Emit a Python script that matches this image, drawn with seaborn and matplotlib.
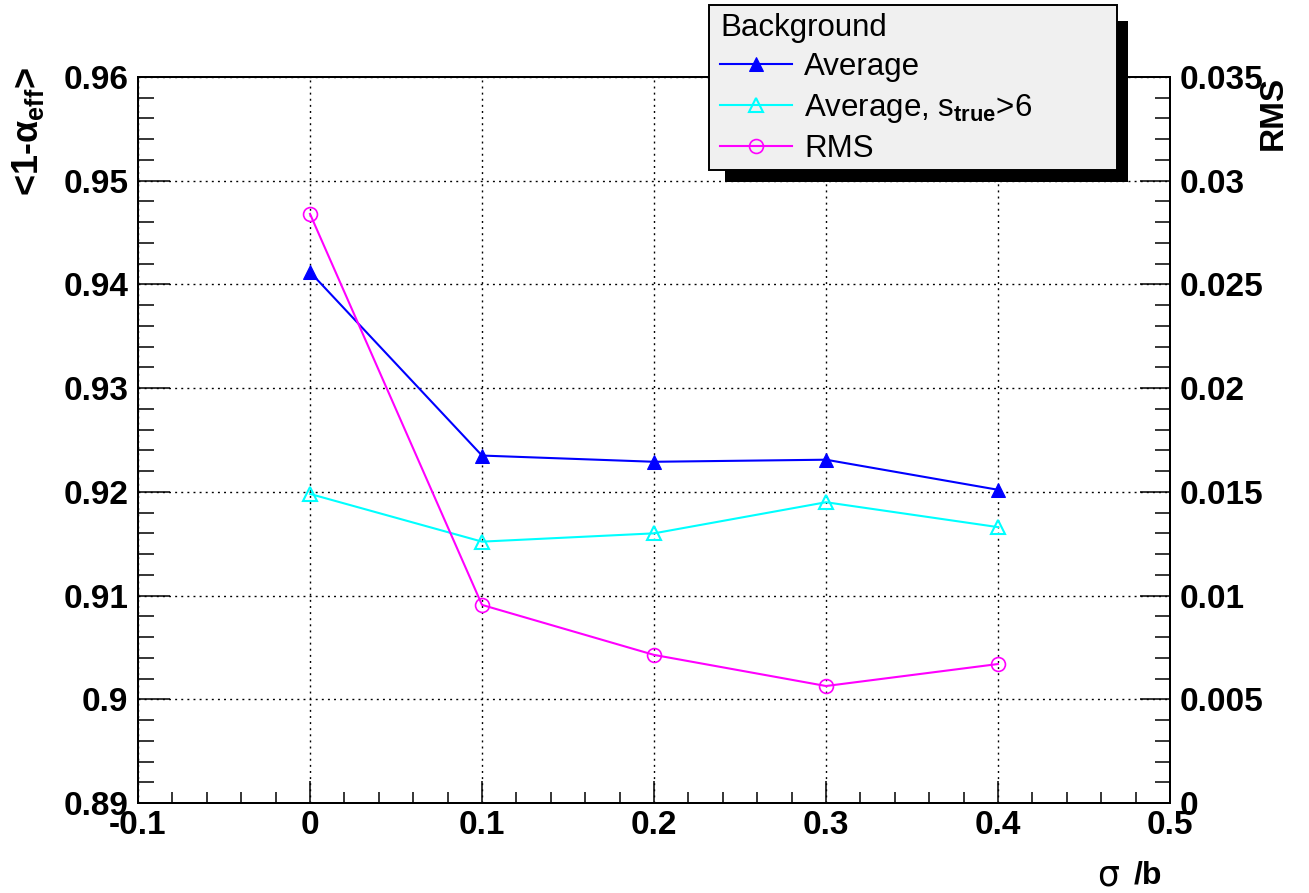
import numpy as np
import pandas as pd
import matplotlib
matplotlib.use("Agg")
import matplotlib.pyplot as plt
import seaborn as sns
from matplotlib.ticker import MultipleLocator, FormatStrFormatter
from matplotlib.patches import Rectangle

# ---- data ----
sigma_over_b = [0.0, 0.1, 0.2, 0.3, 0.4]
average = [0.9412, 0.9235, 0.9229, 0.9231, 0.9202]
average_strue6 = [0.9198, 0.9152, 0.9160, 0.9190, 0.9166]
rms = [0.0284, 0.00955, 0.00714, 0.00564, 0.00670]

labels = ["Average", r"Average, s$_{\mathrm{true}}$>6", "RMS"]
legend_title = "Background"
ylabel_left = r"<1-α$_{\mathbf{eff}}$>"
ylabel_right = "RMS"

plt.rcParams['font.family'] = ['Liberation Sans', 'DejaVu Sans']
plt.rcParams['font.weight'] = 'bold'
plt.rcParams['mathtext.fontset'] = 'custom'
plt.rcParams['mathtext.rm'] = 'Liberation Sans'
plt.rcParams['mathtext.it'] = 'Liberation Sans:italic'
plt.rcParams['mathtext.bf'] = 'Liberation Sans:bold'

W, H = 1309, 893
fig = plt.figure(figsize=(W / 100, H / 100), dpi=100)
fig.patch.set_facecolor('white')
ax = fig.add_axes([138 / W, 1 - 803 / H, (1170 - 138) / W, (803 - 77) / H])
ax2 = ax.twinx()

df = pd.DataFrame({"x": sigma_over_b, "avg": average, "avg6": average_strue6, "rms": rms})

sns.lineplot(data=df, x="x", y="avg", ax=ax, color="#0000ff", marker="^",
             markersize=10, markeredgecolor="#0000ff", linewidth=1.5, label=labels[0])
sns.lineplot(data=df, x="x", y="avg6", ax=ax, color="#00ffff", marker="^",
             markersize=10.5, markerfacecolor="none", markeredgecolor="#00ffff",
             markeredgewidth=1.5, linewidth=1.5, label=labels[1])
sns.lineplot(data=df, x="x", y="rms", ax=ax2, color="#ff00ff", marker="o",
             markersize=10, markerfacecolor="none", markeredgecolor="#ff00ff",
             markeredgewidth=1.2, linewidth=1.5, label=labels[2])
for a in (ax, ax2):
    if a.get_legend() is not None:
        a.get_legend().remove()

ax.set_xlim(-0.1, 0.5)
ax.set_ylim(0.89, 0.96)
ax2.set_ylim(0.0, 0.035)

ax.xaxis.set_major_locator(MultipleLocator(0.1))
ax.xaxis.set_minor_locator(MultipleLocator(0.02))
ax.yaxis.set_major_locator(MultipleLocator(0.01))
ax.yaxis.set_minor_locator(MultipleLocator(0.002))
ax2.yaxis.set_major_locator(MultipleLocator(0.005))
ax2.yaxis.set_minor_locator(MultipleLocator(0.001))
for axis in (ax.xaxis, ax.yaxis, ax2.yaxis):
    axis.set_major_formatter(FormatStrFormatter('%g'))

ax.set_xlabel("")
ax.set_ylabel("")
ax2.set_ylabel("")

TS = 24
ax.tick_params(axis='y', which='major', direction='in', length=23, width=1.1,
               left=True, right=False, labelleft=True, labelright=False,
               labelsize=TS, pad=7, colors='black')
ax.tick_params(axis='y', which='minor', direction='in', length=11.5, width=1.1,
               left=True, right=False)
ax.tick_params(axis='x', which='major', direction='in', length=16, width=1.1,
               bottom=True, top=False, labelsize=TS, pad=5, colors='black')
ax.tick_params(axis='x', which='minor', direction='in', length=8, width=1.1,
               bottom=True, top=False)
ax2.tick_params(axis='y', which='major', direction='in', length=21.5, width=1.1,
                right=True, left=False, labelright=True, labelleft=False,
                labelsize=TS, pad=7, colors='black')
ax2.tick_params(axis='y', which='minor', direction='in', length=11, width=1.1,
                right=True, left=False)

ax.grid(True, which='major', color='black', linestyle=(0, (1.4, 3)), linewidth=1.0)
ax2.grid(False)
for a in (ax, ax2):
    for s in a.spines.values():
        s.set_color('black')
        s.set_linewidth(1.4)

# axis titles
fig.text(28 / W, 1 - 67 / H, ylabel_left, rotation=90, ha='center', va='top', fontsize=26)
fig.text(1273 / W, 1 - 76 / H, ylabel_right, rotation=90, ha='center', va='top', fontsize=24)
fig.text(1162 / W, 1 - 876 / H, "/b", ha='right', va='center', fontsize=23)
fig.text(1097 / W, 1 - 876 / H, "σ", ha='left', va='center', fontsize=25,
         fontweight='normal', family=['DejaVu Sans'])

# legend box with shadow
fig.add_artist(Rectangle((725 / W, 1 - 182 / H), (1128 - 725) / W, (182 - 21) / H,
                         transform=fig.transFigure, facecolor='black', edgecolor='none',
                         zorder=15))
fig.add_artist(Rectangle((709 / W, 1 - 170 / H), (1117 - 709) / W, (170 - 5) / H,
                         transform=fig.transFigure, facecolor='#f0f0f0', edgecolor='black',
                         linewidth=1.4, zorder=16))
handles = ax.get_lines()[:2] + ax2.get_lines()[:1]
leg = fig.legend(handles, labels, loc='upper left', bbox_to_anchor=(720 / W, 1 - 13 / H),
                 frameon=False, title=legend_title, alignment='left',
                 prop={'weight': 'normal', 'size': 22.5},
                 title_fontproperties={'weight': 'normal', 'size': 22.5},
                 handlelength=2.3, handletextpad=0.4, labelspacing=0.3,
                 borderpad=0, borderaxespad=0, numpoints=1)
leg.set_zorder(20)

fig.savefig("out.png", dpi=100)
